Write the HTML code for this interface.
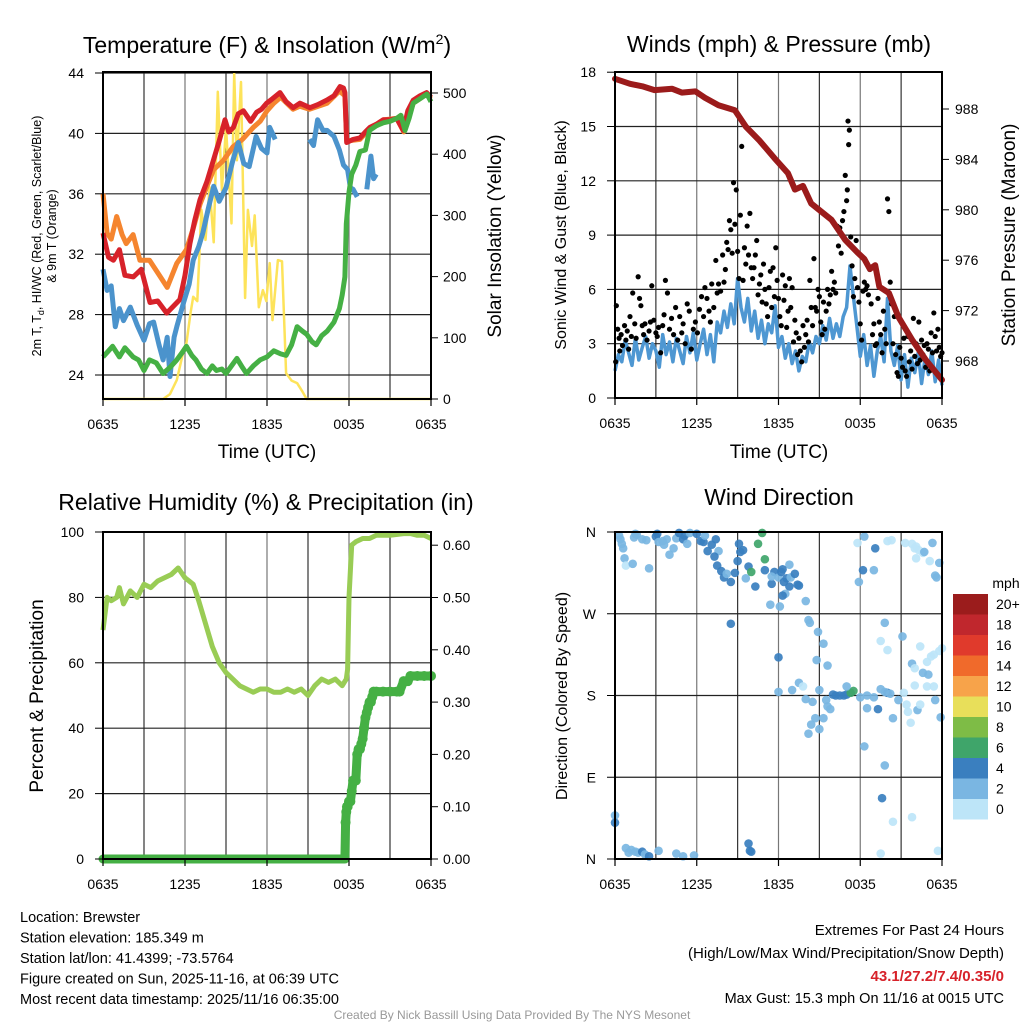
<!DOCTYPE html>
<html><head><meta charset="utf-8"><style>
html,body{margin:0;padding:0;background:#fff;width:1024px;height:1024px;overflow:hidden}
svg{display:block;font-family:"Liberation Sans",Arial,sans-serif}
</style></head><body>
<svg id="root" width="1024" height="1024" viewBox="0 0 1024 1024"></svg>
<script>
// ---------- DATA ----------
const timeTicks=["0635","1235","1835","0035","0635"];
const tempTicks=[24,28,32,36,40,44];
const solarTicks=[0,100,200,300,400,500];
const windTicks=[0,3,6,9,12,15,18];
const presTicks=[968,972,976,980,984,988];
const rhTicks=[0,20,40,60,80,100];
const precipTicks=[0,0.1,0.2,0.3,0.4,0.5,0.6];
const dirTicks=["N","E","S","W","N"];
const cbLabels=["20+","18","16","14","12","10","8","6","4","2","0"];
const cbColors=["#9b1c1c","#c0272d","#e03a2c","#f06a2b","#f7a34a","#e8df5a","#7ebc46","#3fa56a","#3a7fbf","#7ab6e2","#bde5f8"];

const redT=[0,0.4,0.76,1.2,1.6,2.22,2.8,3.44,4.0,4.66,5.2,5.63,6.0,6.36,6.7,7.1,7.6,8.07,8.5,8.93,9.2,9.54,9.9,10.27,10.8,11.24,11.6,11.97,12.4,12.95,13.4,13.92,14.41,15.14,15.7,16.36,16.9,17.34,17.6,17.7,17.83,18.3,18.8,19.2,19.53,20.0,20.5,21.0,21.48,21.97,22.3,22.7,23.2,23.68,24];
const redV=[33.4,31.8,31.6,32.3,30.6,30.5,31.0,28.8,28.9,28.1,28.6,29.0,30.6,32.7,34.2,35.6,36.8,38.2,39.5,40.9,40.1,40.4,41.3,41.5,40.8,41.4,41.6,42.0,42.3,42.7,42.1,41.7,42.0,41.7,41.9,42.2,42.5,43.1,43.0,42.7,39.4,39.6,39.7,40.1,40.4,40.6,40.9,40.9,41.0,40.2,41.5,42.2,42.5,42.7,42.4];
const orangeT=[0,0.3,0.6,1.0,1.4,1.7,2.2,2.7,3.4,4.2,4.7,5.4,6.1,6.6,7.1,7.6,8.1,8.8,9.5,10.2,11.0,11.5,12.0,12.5,13.0,13.9,14.4,15.1,16.4,17.3,17.7,17.83,18.8,19.5,20.5,21.5,22.0,22.7,23.7,24];
const orangeV=[36.0,33.4,33.0,34.5,33.3,32.7,33.3,31.6,31.6,30.5,29.8,31.4,32.3,33.7,35.3,36.5,37.6,38.2,39.1,39.6,40.4,40.8,41.5,42.0,42.4,41.6,41.8,41.6,42.0,42.8,42.5,39.5,39.6,40.3,40.9,41.0,40.1,42.0,42.6,42.3];
const blueT=[0,0.3,0.6,0.9,1.2,1.5,2.0,2.5,3.0,3.4,3.7,4.1,4.4,4.7,4.9,5.2,5.4,5.9,6.3,6.6,7.0,7.3,7.7,8.1,8.5,9.0,9.5,9.9,10.3,10.7,11.2,11.6,12.0,12.2,12.6,null,15.1,15.4,15.7,16.1,16.4,16.9,17.3,17.6,17.9,18.1,18.3,18.6,null,19.3,19.6,19.8,20.0];
const blueV=[31.0,29.6,29.9,27.2,28.4,27.6,28.5,27.3,26.3,27.4,27.5,26.0,25.0,26.5,23.9,26.5,27.2,28.8,30.0,31.6,32.5,33.4,35.0,36.5,35.5,36.4,38.2,39.4,38.0,37.8,39.8,39.0,38.7,40.4,39.6,null,39.6,39.2,40.9,40.2,40.2,39.8,38.9,37.9,37.6,36.4,36.3,35.8,null,36.3,38.5,37.0,37.3];
const greenT=[0,0.3,0.7,1.2,1.6,2.2,2.6,3.0,3.4,3.9,4.4,4.9,5.4,5.8,6.1,6.5,6.8,7.2,7.6,8.0,8.3,8.7,9.0,9.4,9.8,10.2,10.5,11.0,11.5,12.0,12.5,13.0,13.4,13.8,14.2,14.6,14.9,15.3,15.6,16.0,16.4,16.9,17.3,17.5,17.7,17.8,18.0,18.2,18.5,18.8,19.2,19.5,20.0,20.5,21.0,21.5,21.8,22.1,22.4,22.7,23.2,23.7,24];
const greenV=[25.2,25.5,25.9,25.2,25.8,25.2,25.0,24.3,25.0,24.8,24.1,24.5,25.0,25.5,25.9,25.3,25.0,24.4,24.1,24.6,24.3,24.4,24.1,24.6,25.1,24.5,24.1,24.6,25.0,25.2,25.6,25.4,25.3,26.0,27.2,26.9,26.7,26.2,26.0,26.6,26.9,27.5,28.4,29.3,30.5,34.0,36.1,37.3,37.9,38.8,38.9,40.2,40.5,40.7,40.8,41.0,41.2,40.2,41.0,42.0,42.3,42.6,42.1];
const solarT=[0,4.4,4.9,5.4,5.8,6.1,6.4,6.6,6.9,7.2,7.5,7.8,8.1,8.4,8.7,9.0,9.4,9.6,9.8,10.1,10.4,10.6,10.9,11.1,11.4,11.7,11.95,12.2,12.4,12.8,13.1,13.4,13.8,14.2,14.6,14.9,24];
const solarV=[0,0,8,31,70,91,140,167,160,309,260,346,256,502,341,445,287,532,390,518,165,309,250,300,150,178,160,222,129,227,225,42,30,26,12,0,0];
const presT=[0,1.1,2.0,2.9,4.2,4.9,5.9,6.6,7.6,8.8,9.6,10.6,11.7,12.7,13.2,13.8,14.4,15.9,16.9,17.8,18.3,18.7,19.1,19.4,20.1,20.8,21.8,22.8,24];
const presV=[990.4,990.0,989.8,989.5,989.6,989.3,989.4,988.9,988.3,987.9,986.6,985.5,984.1,982.9,981.6,981.9,980.5,979.2,977.6,976.6,976.1,975.3,975.6,973.9,973.4,971.5,969.7,968.1,966.5];
const windT=[0,0.25,0.5,0.75,1,1.25,1.5,1.75,2,2.25,2.5,2.75,3,3.25,3.5,3.75,4,4.25,4.5,4.75,5,5.25,5.5,5.75,6,6.25,6.5,6.75,7,7.25,7.5,7.75,8,8.25,8.5,8.75,9,9.25,9.5,9.75,10,10.25,10.5,10.75,11,11.25,11.5,11.75,12,12.25,12.5,12.75,13,13.25,13.5,13.75,14,14.25,14.5,14.75,15,15.25,15.5,15.75,16,16.25,16.5,16.75,17,17.25,17.5,17.75,18,18.25,18.5,18.75,19,19.25,19.5,19.75,20,20.25,20.5,20.75,21,21.25,21.5,21.75,22,22.25,22.5,22.75,23,23.25,23.5,23.75,24];
const windV=[1.5,2.4,2.0,3.2,2.5,1.8,3.3,2.1,2.8,3.4,2.2,3.0,2.6,1.7,3.5,2.4,3.1,2.0,3.3,2.6,1.9,3.4,2.5,3.6,2.1,3.0,3.8,2.4,3.5,2.0,4.2,3.6,4.8,3.9,5.2,4.1,6.6,5.0,4.2,5.5,3.7,4.8,3.3,4.3,3.0,4.1,3.6,5.1,2.8,3.4,2.2,3.0,1.9,2.6,1.5,2.3,2.0,3.1,2.5,3.4,3.0,4.0,3.2,4.4,3.3,4.1,3.4,4.5,5.0,7.3,5.6,4.0,2.3,3.5,1.8,2.9,1.2,2.6,3.4,2.0,5.5,2.6,1.8,2.9,1.0,2.4,0.6,2.2,1.4,2.5,0.8,2.2,1.3,2.6,0.9,2.1,0.7];
const gustT=[0.05,0.1,0.2,0.3,0.35,0.45,0.55,0.7,0.8,0.9,1.0,1.1,1.2,1.3,1.45,1.55,1.7,1.8,1.9,2.0,2.1,2.2,2.35,2.5,2.6,2.7,2.85,3.0,3.1,3.2,3.35,3.5,3.6,3.7,3.85,4.0,4.15,4.3,4.45,4.6,4.75,4.9,5.0,5.15,5.3,5.45,5.6,5.75,5.9,6.05,6.2,6.35,6.5,6.6,6.75,6.9,7.0,7.1,7.25,7.4,7.5,7.6,7.75,7.9,8.0,8.1,8.2,8.3,8.4,8.5,8.6,8.7,8.8,8.9,9.0,9.1,9.2,9.3,9.4,9.5,9.6,9.7,9.8,9.9,10.0,10.1,10.2,10.3,10.4,10.5,10.6,10.7,10.8,10.9,11.0,11.1,11.2,11.3,11.4,11.5,11.6,11.7,11.8,11.9,12.0,12.1,12.2,12.3,12.4,12.5,12.6,12.7,12.8,12.9,13.0,13.1,13.2,13.3,13.4,13.5,13.6,13.7,13.8,13.9,14.0,14.1,14.2,14.3,14.4,14.5,14.6,14.7,14.8,14.9,15.0,15.1,15.2,15.3,15.4,15.5,15.6,15.7,15.8,15.9,16.0,16.1,16.2,16.3,16.4,16.5,16.6,16.7,16.8,16.9,17.0,17.05,17.1,17.15,17.2,17.3,17.4,17.5,17.6,17.7,17.8,17.9,18.0,18.1,18.2,18.3,18.4,18.5,18.6,18.7,18.8,18.9,19.0,19.1,19.2,19.3,19.4,19.5,19.6,19.7,19.8,19.9,20.0,20.1,20.2,20.3,20.4,20.5,20.6,20.7,20.8,20.9,21.0,21.1,21.2,21.3,21.4,21.5,21.6,21.7,21.8,21.9,22.0,22.1,22.2,22.3,22.4,22.5,22.6,22.7,22.8,22.9,23.0,23.1,23.2,23.3,23.4,23.5,23.6,23.7,23.8,23.9,24.0];
const gustV=[2.0,5.1,3.8,3.3,2.6,3.5,2.9,4.0,3.2,3.7,2.7,4.5,3.4,5.8,4.1,3.3,6.7,5.5,5.1,4.0,3.5,4.1,3.2,3.7,4.2,6.2,4.3,3.6,3.4,3.9,2.5,4.0,4.6,6.5,5.8,3.8,4.4,3.5,5.0,3.2,4.5,3.6,4.1,3.0,5.2,4.8,2.7,3.8,4.2,3.6,4.9,5.6,4.5,6.1,5.5,4.8,4.2,6.3,5.0,7.6,5.8,6.3,5.9,7.9,6.4,7.1,8.6,8.2,9.8,9.3,8.0,11.9,9.6,11.5,8.1,6.6,10.1,13.9,6.5,8.3,7.4,9.5,7.9,10.2,7.2,6.6,7.2,7.9,8.7,5.7,6.3,6.8,5.3,7.4,6.0,5.2,4.5,6.1,7.0,5.0,7.2,5.6,8.3,6.5,5.5,4.5,4.0,6.8,5.4,6.2,3.9,4.8,6.6,5.0,6.1,3.1,4.3,3.6,2.4,3.3,2.6,2.0,4.0,2.8,3.5,4.3,3.1,6.5,5.0,4.0,7.7,5.0,4.8,6.0,5.6,4.2,3.5,5.3,3.8,4.8,6.0,5.2,5.7,7.0,6.0,6.4,5.8,9.5,8.4,9.4,8.0,9.8,10.3,12.3,10.9,11.5,15.3,14.0,14.8,8.9,7.3,5.6,6.6,8.7,6.1,5.3,4.1,3.2,5.9,6.4,6.0,6.2,5.7,7.1,5.2,3.5,4.1,2.9,3.0,5.5,4.2,3.5,2.5,4.8,3.8,3.0,11.0,10.3,6.4,5.2,3.0,4.5,2.4,1.4,1.2,2.8,2.2,1.7,3.3,1.5,1.2,3.4,2.0,2.6,1.6,4.4,2.3,3.0,1.9,4.2,2.1,3.2,2.4,2.9,1.7,3.0,2.7,1.5,3.6,2.5,4.7,3.4,2.6,3.8,2.8,2.3,2.5,3.0,4.3,3.1,2.5,2.9,2.2,3.2];
const rhT=[0,0.3,0.6,1.0,1.2,1.5,2.0,2.5,3.0,3.5,4.0,4.5,5.0,5.5,6.0,6.3,6.6,7.0,7.5,8.0,8.5,9.0,9.5,10.0,10.5,11.0,11.5,12.0,12.5,13.0,13.5,14.0,14.5,15.0,15.5,16.0,16.5,17.0,17.5,17.8,17.9,18.0,18.2,18.5,19.0,19.5,20.0,21.0,22.0,22.5,23.0,23.5,24];
const rhV=[70,80,79,80,83,78,82,80,84,83,85,86,87,89,86,85,84,79,72,65,60,57,55,53,52,51,52,52,51,51,52,51,52,50,53,55,54,55,53,55,58,80,96,97,98,98,99,99,99.5,99.5,99,99,98];
const precipT=[0,17.7,17.75,17.8,17.85,17.9,18.0,18.1,18.2,18.3,18.4,18.5,18.6,18.7,18.8,18.9,19.0,19.1,19.2,19.3,19.4,19.5,19.6,19.7,19.8,20.0,20.5,21.0,21.5,21.7,22.0,22.3,22.5,23.0,23.5,24];
const precipV=[0,0,0.07,0.09,0.10,0.10,0.11,0.11,0.13,0.15,0.15,0.15,0.20,0.21,0.21,0.22,0.23,0.25,0.27,0.28,0.29,0.30,0.30,0.31,0.32,0.32,0.32,0.32,0.32,0.32,0.34,0.34,0.35,0.35,0.35,0.35];
const dirT=[0.3,0.4,0.5,0.6,0.7,0.8,1.3,1.4,1.5,1.6,2.0,2.3,2.5,3.0,3.1,3.2,3.5,3.6,3.8,4.0,4.3,4.5,4.7,5.0,5.1,5.3,5.5,6.0,6.3,6.5,6.6,6.8,7.1,7.4,7.6,7.3,7.5,7.8,8.0,8.2,8.5,8.8,9.0,9.2,9.4,9.1,9.6,9.8,10.0,10.3,10.5,10.8,11.0,11.5,11.7,12.0,12.2,12.4,12.6,12.8,12.5,12.9,13.2,13.4,14.0,14.2,14.3,14.8,14.9,15.3,15.6,13.5,12.3,12.1,8.5,11.4,12.8,11.5,11.0,12.3,12.0,12.0,13.0,13.5,13.8,14.0,14.5,15.0,14.4,14.7,15.3,14.2,15.0,15.5,16.0,15.6,15.8,16.2,16.5,16.8,17.0,17.3,17.5,17.0,18.0,18.5,19.0,18.5,19.3,19.5,20.0,20.2,19.8,18.3,19.6,19.8,20.4,20.8,21.4,21.5,21.7,21.2,22.0,21.8,22.6,22.2,22.4,22.9,23.4,23.0,23.5,23.9,23.2,23.4,23.8,22.4,21.1,20.0,19.5,19.8,22.0,22.9,24.0,17.8,18.3,19.1,20.0,20.3,21.3,21.8,22.1,22.3,22.0,22.6,23.1,22.1,22.7,23.3,23.8,23.5,23.6,18.2,19.0,17.9,0,0,0.8,1.0,1.2,1.5,1.7,2.0,2.2,2.5,3.2,4.5,5.0,5.8,9.8,9.9,10.0,20.4,21.8,19.5,23.7];
const dirV=[356,352,347,342,331,323,325,354,358,357,352,351,320,355,358,349,350,346,352,335,342,353,359,352,356,347,359,358,350,349,356,339,346,352,339,333,323,317,310,314,305,315,328,338,340,347,309,322,316,300,347,359,330,303,316,310,316,305,309,300,292,310,314,302,284,263,260,219,250,237,213,301,290,278,259,280,324,311,318,319,222,184,186,194,190,176,173,186,148,155,155,138,143,175,181,168,165,180,180,180,181,183,185,190,178,180,178,166,165,187,183,182,184,124,67,103,155,175,170,162,150,183,191,215,205,164,170,190,190,203,175,156,223,225,229,234,245,230,240,260,210,217,232,348,355,342,350,351,348,347,344,340,342,337,328,331,338,348,326,312,310,318,318,305,48,40,12,7,10,8,7,8,5,3,9,6,3,4,17,9,8,41,46,6,9];
const dirS=[1.8,1.8,1.8,1.8,1.8,0.5,1.8,1.8,1.8,1.8,1.8,1.8,1.8,3.5,3.5,1.8,1.8,1.8,1.8,1.8,1.8,1.8,3.5,3.5,3.5,1.8,1.8,3.5,3.5,3.5,1.8,3.5,3.5,3.5,1.8,3.5,3.5,3.5,3.5,1.8,3.5,3.8,3.8,3.5,3.5,3.5,1.8,3.5,5.5,3.5,5.5,5.5,5.5,3.5,3.5,1.8,3.5,3.5,3.5,3.5,1.8,1.8,3.5,3.5,1.8,1.8,1.8,1.8,1.8,1.8,1.8,3.5,3.5,1.8,3.5,1.8,1.8,1.8,3.5,3.5,3.5,1.8,1.8,1.8,0.5,1.8,1.8,1.8,1.8,1.8,1.8,1.8,1.8,1.8,3.5,1.8,1.8,3.5,3.8,3.5,3.5,5.5,5.5,1.8,1.8,1.8,1.8,1.8,3.5,1.8,3.5,1.8,1.8,1.8,3.5,1.8,1.8,1.8,0.5,0.5,0.5,0.5,0.5,1.8,1.8,1.8,0.5,0.5,0.5,1.8,1.8,1.8,0.5,0.5,0.5,0.5,1.8,0.5,0.5,1.8,0.5,0.5,0.5,0.5,1.8,3.5,0.5,0.5,0.5,0.5,0.5,0.5,0.5,0.5,0.5,0.5,1.8,1.8,1.8,1.8,1.8,3.5,1.8,1.8,1.8,3.5,1.8,1.8,1.8,1.8,1.8,3.5,1.8,3.5,1.8,1.8,1.8,1.8,3.8,3.8,3.8,0.5,0.5,0.5,0.5];

// ---------- HELPERS ----------
const NS="http://www.w3.org/2000/svg";
const root=document.getElementById('root');
function mk(tag,attrs,parent){const e=document.createElementNS(NS,tag);for(const k in attrs)e.setAttribute(k,attrs[k]);(parent||root).appendChild(e);return e;}
function txt(x,y,s,size,anchor,parent,extra){const e=mk('text',Object.assign({x:x,y:y,'font-size':size,'text-anchor':anchor||'middle',fill:'#000'},extra||{}),parent);e.textContent=s;return e;}
function pathFrom(T,V,fx,fy){let d='',pen=false;for(let i=0;i<T.length;i++){if(T[i]===null||V[i]===null){pen=false;continue;}d+=(pen?'L':'M')+fx(T[i]).toFixed(1)+','+fy(V[i]).toFixed(1);pen=true;}return d;}
function grid(g,x0,x1,y0,y1,ys){for(let i=1;i<8;i++){const x=x0+(x1-x0)*i/8;const l=mk('line',{x1:x,x2:x,y1:y0,y2:y1,stroke:i%2?'#333':'#777','stroke-width':1.2},g);}
 ys.forEach(y=>{const l=mk('line',{x1:x0,x2:x1,y1:y,y2:y,stroke:'#222','stroke-width':1.2},g);});}
function frame(g,x0,x1,y0,y1){const r=mk('rect',{x:x0,y:y0,width:x1-x0,height:y1-y0,fill:'none',stroke:'#000','stroke-width':2},g);}
function xTicks(g,x0,x1,y1){timeTicks.forEach((s,i)=>{const x=x0+(x1-x0)*i/4;const t=txt(x,y1+30,s,14,'middle',g);mk('line',{x1:x,x2:x,y1:y1,y2:y1+7,stroke:'#000','stroke-width':1.2},g);});}

// ---------- PANEL 1: Temperature ----------
{const g=mk('g',{});
const X0=103,X1=431,Y0=72,Y1=399;
const fx=t=>X0+t*(X1-X0)/24, fyT=v=>375-(v-24)*15.1, fyS=v=>399-v*0.612;
grid(g,X0,X1,Y0,Y1,tempTicks.map(fyT));
const s=mk('path',{d:pathFrom(solarT,solarV,fx,fyS),fill:'none',stroke:'#fde35a','stroke-width':2.5,'stroke-linejoin':'round'},g);
const o=mk('path',{d:pathFrom(orangeT,orangeV,fx,fyT),fill:'none',stroke:'#f5852f','stroke-width':5,'stroke-linejoin':'round'},g);
const r=mk('path',{d:pathFrom(redT,redV,fx,fyT),fill:'none',stroke:'#d7222a','stroke-width':5,'stroke-linejoin':'round'},g);
const b=mk('path',{d:pathFrom(blueT,blueV,fx,fyT),fill:'none',stroke:'#4b93cc','stroke-width':5,'stroke-linejoin':'round'},g);
const gr=mk('path',{d:pathFrom(greenT,greenV,fx,fyT),fill:'none',stroke:'#45b044','stroke-width':5,'stroke-linejoin':'round'},g);
frame(g,X0,X1,Y0,Y1);xTicks(g,X0,X1,Y1);
tempTicks.forEach(v=>{const t=txt(84,fyT(v)+5,String(v),14,'end',g);mk('line',{x1:95,x2:X0,y1:fyT(v),y2:fyT(v),stroke:'#000'},g);});
solarTicks.forEach(v=>{const t=txt(443,fyS(v)+5,String(v),14,'start',g);mk('line',{x1:X1,x2:X1+7,y1:fyS(v),y2:fyS(v),stroke:'#000'},g);});
const ti=txt(267,53,'Temperature (F) & Insolation (W/m',23,'middle',g);const sup=mk('tspan',{dy:-9,'font-size':14},ti);sup.textContent='2';const cl=mk('tspan',{dy:9},ti);cl.textContent=')';
const xl=txt(267,458,'Time (UTC)',19,'middle',g);
const yl=mk('text',{transform:'translate(41,236) rotate(-90)','font-size':12.5,'text-anchor':'middle'},g);yl.textContent='2m T, T';const sb=mk('tspan',{dy:3,'font-size':9},yl);sb.textContent='d';const rest=mk('tspan',{dy:-3},yl);rest.textContent=', HI/WC (Red, Green, Scarlet/Blue)';
const yl2=mk('text',{transform:'translate(56,236) rotate(-90)','font-size':12.5,'text-anchor':'middle'},g);yl2.textContent='& 9m T (Orange)';
const yr=mk('text',{transform:'translate(501,236) rotate(-90)','font-size':19,'text-anchor':'middle'},g);yr.textContent='Solar Insolation (Yellow)';}

// ---------- PANEL 2: Winds ----------
{const g=mk('g',{});
const X0=615,X1=942,Y0=72,Y1=398;
const fx=t=>X0+t*(X1-X0)/24, fyW=v=>398-v*18.1, fyP=v=>109+(988-v)*12.6;
grid(g,X0,X1,Y0,Y1,windTicks.slice(1).map(fyW));
const b=mk('path',{d:pathFrom(windT,windV,fx,fyW),fill:'none',stroke:'#4e97d2','stroke-width':3.5,'stroke-linejoin':'round'},g);
gustT.forEach((t,i)=>{const c=mk('circle',{cx:fx(t),cy:fyW(gustV[i]),r:2.6,fill:'#000'},g);});
const p=mk('path',{d:pathFrom(presT,presV,fx,fyP),fill:'none',stroke:'#9b1b1b','stroke-width':6,'stroke-linejoin':'round','stroke-linecap':'round'},g);
frame(g,X0,X1,Y0,Y1);xTicks(g,X0,X1,Y1);
windTicks.forEach(v=>{const t=txt(596,fyW(v)+5,String(v),14,'end',g);mk('line',{x1:607,x2:X0,y1:fyW(v),y2:fyW(v),stroke:'#000'},g);});
presTicks.forEach(v=>{const t=txt(955,fyP(v)+5,String(v),14,'start',g);mk('line',{x1:X1,x2:X1+7,y1:fyP(v),y2:fyP(v),stroke:'#000'},g);});
const ti=txt(779,52,'Winds (mph) & Pressure (mb)',23,'middle',g);
const xl=txt(779,458,'Time (UTC)',19,'middle',g);
const yl=mk('text',{transform:'translate(566,235) rotate(-90)','font-size':16,'text-anchor':'middle'},g);yl.textContent='Sonic Wind & Gust (Blue, Black)';
const yr=mk('text',{transform:'translate(1015,235) rotate(-90)','font-size':19,'text-anchor':'middle'},g);yr.textContent='Station Pressure (Maroon)';}

// ---------- PANEL 3: RH & Precip ----------
{const g=mk('g',{});
const X0=103,X1=431,Y0=532,Y1=859;
const fx=t=>X0+t*(X1-X0)/24, fyR=v=>859-v*3.27, fyP=v=>859-v*523;
grid(g,X0,X1,Y0,Y1,rhTicks.slice(1,5).map(fyR));
const r=mk('path',{d:pathFrom(rhT,rhV,fx,fyR),fill:'none',stroke:'#99cc55','stroke-width':5,'stroke-linejoin':'round'},g);
const pl=mk('path',{d:pathFrom(precipT,precipV,fx,fyP),fill:'none',stroke:'#45b044','stroke-width':9,'stroke-linejoin':'round','stroke-linecap':'round'},g);
precipT.forEach((t,i)=>{if(i>1){const c=mk('circle',{cx:fx(t),cy:fyP(precipV[i]),r:5,fill:'#45b044'},g);}});
frame(g,X0,X1,Y0,Y1);xTicks(g,X0,X1,Y1);
rhTicks.forEach(v=>{const t=txt(84,fyR(v)+5,String(v),14,'end',g);mk('line',{x1:95,x2:X0,y1:fyR(v),y2:fyR(v),stroke:'#000'},g);});
precipTicks.forEach(v=>{const t=txt(443,fyP(v)+5,v.toFixed(2),14,'start',g);mk('line',{x1:X1,x2:X1+7,y1:fyP(v),y2:fyP(v),stroke:'#000'},g);});
const ti=txt(266,510,'Relative Humidity (%) & Precipitation (in)',23,'middle',g);
const yl=mk('text',{transform:'translate(43,696) rotate(-90)','font-size':19,'text-anchor':'middle'},g);yl.textContent='Percent & Precipitation';}

// ---------- PANEL 4: Wind Direction ----------
{const g=mk('g',{});
const X0=615,X1=942,Y0=532,Y1=859;
const fx=t=>X0+t*(X1-X0)/24, fyD=v=>859-v*327/360;
grid(g,X0,X1,Y0,Y1,[90,180,270].map(fyD));
const col=s=>s<1?cbColors[10]:s<3?cbColors[9]:s<5?cbColors[8]:s<7?cbColors[7]:s<9?cbColors[6]:cbColors[5];
dirT.forEach((t,i)=>{const c=mk('circle',{cx:fx(t),cy:fyD(dirV[i]),r:4.3,fill:col(dirS[i]),'fill-opacity':0.92},g);});
frame(g,X0,X1,Y0,Y1);xTicks(g,X0,X1,Y1);
dirTicks.forEach((s,i)=>{const y=Y1-(Y1-Y0)*i/4;const t=txt(596,y+5,s,14,'end',g);mk('line',{x1:607,x2:X0,y1:y,y2:y,stroke:'#000'},g);});
const ti=txt(779,505,'Wind Direction',23,'middle',g);
const yl=mk('text',{transform:'translate(567,696) rotate(-90)','font-size':16,'text-anchor':'middle'},g);yl.textContent='Direction (Colored By Speed)';
const lg=mk('g',{},g);
const mph=txt(1006,588,'mph',14,'middle',lg);
cbColors.forEach((c,i)=>{const r=mk('rect',{x:953,y:594+i*20.5,width:35,height:20.5,fill:c},lg);
const t=txt(996,609+i*20.5,cbLabels[i],14,'start',lg);});}

// ---------- FOOTER ----------
{const g=mk('g',{});
["Location: Brewster","Station elevation: 185.349 m","Station lat/lon: 41.4399; -73.5764","Figure created on Sun, 2025-11-16, at 06:39 UTC","Most recent data timestamp: 2025/11/16 06:35:00"].forEach((s,i)=>{const t=txt(20,922+i*20.5,s,14.5,'start',g);});
const e=mk('g',{});
const a=txt(1004,935,'Extremes For Past 24 Hours',15,'end',e);
const b=txt(1004,958,'(High/Low/Max Wind/Precipitation/Snow Depth)',15,'end',e);
const c=txt(1004,981,'43.1/27.2/7.4/0.35/0',15,'end',e,{fill:'#d7222a','font-weight':'bold'});
const d=txt(1004,1003,'Max Gust: 15.3 mph On 11/16 at 0015 UTC',14.5,'end',e);
const cr=txt(512,1019,'Created By Nick Bassill Using Data Provided By The NYS Mesonet',12,'middle',null,{fill:'#999'});}
</script>
</body></html>
